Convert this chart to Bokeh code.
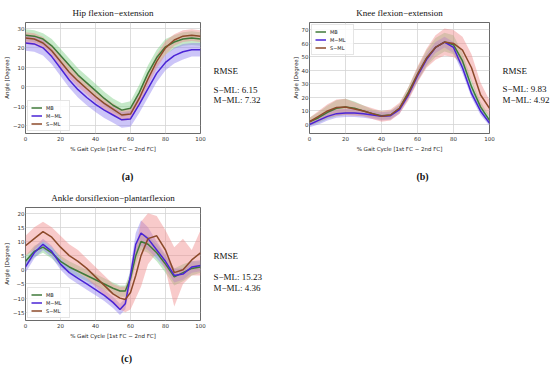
import numpy as np
from bokeh.plotting import figure
from bokeh.layouts import column, row
from bokeh.models import Legend, LegendItem, Range1d, FixedTicker
from bokeh.core.properties import value
from bokeh.embed import file_html
from bokeh.resources import INLINE

# ---------------- data ----------------
series_names = ["MB", "M\u2212ML", "S\u2212ML"]

gait_x = [0, 5, 10, 15, 20, 25, 30, 35, 40, 45, 50, 55, 60, 65, 70, 75, 80, 85, 90, 95, 100]

hip_mb = [26.5, 26, 24.5, 21, 16, 11, 6, 2, -2, -6, -9.5, -12, -11, -3, 7, 15, 20.5, 23, 24.5, 25, 24.5]
hip_mml = [22.5, 22, 20, 15.5, 9.5, 3.5, -1.5, -5.5, -9, -12, -14.5, -17, -16.5, -9, -1, 7, 12.5, 16, 18, 19, 19]
hip_sml = [25, 24.5, 22.5, 18.5, 13, 7.5, 3, -1, -5, -8.5, -11.5, -14.5, -14, -6, 4, 13, 20, 24, 26, 26.5, 26]
hip_mb_sd = [3, 3, 3, 3.5, 3.5, 3.5, 3.5, 3.5, 3.5, 3.5, 3.5, 3.5, 3.5, 4, 4, 4, 4, 3.5, 3.5, 3.5, 3.5]
hip_mml_sd = [4, 4, 4, 4, 4, 4, 4, 4, 4, 4, 4, 4, 4, 4.5, 4.5, 4.5, 4, 4, 4, 3.5, 3.5]
hip_sml_sd = [3, 3, 3, 3, 3, 3, 3, 3, 3, 3, 3, 3, 3, 3.5, 3.5, 3.5, 3.5, 3, 3, 3, 3]

knee_mb = [2, 5, 9, 12, 13, 12, 10, 8, 6.5, 7, 12, 24, 37, 49, 57, 61, 59, 47, 28, 13, 3]
knee_mml = [0, 3, 6, 8, 8.5, 8.5, 8, 7, 6, 6.5, 11, 22, 36, 48, 57, 61, 57, 42, 23, 10, 1]
knee_sml = [2, 6, 10, 12.5, 13, 11.5, 10, 8, 6, 7, 12, 23, 37, 49, 57, 61, 60, 55, 42, 22, 12]
knee_mb_sd = [3, 4, 5, 6, 6, 5, 4, 3, 3, 3, 3, 4, 5, 6, 7, 7, 7, 6, 5, 4, 3]
knee_mml_sd = [2, 3, 3, 3, 3, 3, 3, 3, 3, 3, 3, 3, 4, 4, 4, 4, 4, 4, 3, 3, 2]
knee_sml_sd = [3, 4, 5, 6, 6, 5, 4, 4, 4, 4, 4, 5, 6, 7, 9, 10, 10, 10, 10, 9, 6]

ankle_x = [0, 5, 10, 15, 20, 25, 30, 35, 40, 45, 50, 54, 57, 60, 63, 66, 70, 75, 80, 85, 90, 95, 100]
ankle_mb = [3, 6.5, 8, 6, 3, 1, -0.5, -2, -3.5, -5, -6.5, -7.5, -7.5, -3, 5, 10, 9, 6, 2, -2.5, -1, 0.5, 1]
ankle_mml = [1, 6, 9, 6.5, 2, -1, -3, -5, -7, -9, -11.5, -14, -12, -2, 9, 13, 11, 7, 3, -2, -1.5, 1, 1.5]
ankle_sml = [8.5, 11, 13.5, 11.5, 8, 5, 3, 0.5, -2.5, -5.5, -8.5, -10, -10.5, -8, -2, 5, 11, 12, 7, -1, 0, 3.5, 6]
ankle_mb_sd = [2, 2, 2, 2, 2, 2, 2, 2, 2, 2, 2, 2, 2, 2.5, 3, 3, 3, 3, 3, 3, 3, 2.5, 2]
ankle_mml_sd = [2, 2, 2, 2, 2, 2, 2, 2, 2, 2, 2, 2, 2, 3, 4, 4.5, 4, 3, 2.5, 2.5, 2, 2, 2]
ankle_sml_hi = [12, 15, 17, 15, 12, 9, 7, 4, 1, -2, -5, -6, -6, -2, 8, 17, 20, 19, 14, 8, 11, 7, 14]
ankle_sml_lo = [5, 7, 10, 8, 4, 1, -1, -3, -6, -9, -12, -14, -15, -14, -10, -6, 2, 6, 0, -13, -5, -2, -2]

rmse_hip = ["S\u2212ML: 6.15", "M\u2212ML: 7.32"]
rmse_knee = ["S\u2212ML: 9.83", "M\u2212ML: 4.92"]
rmse_ankle = ["S\u2212ML: 15.23", "M\u2212ML: 4.36"]

x_ticks = [0, 20, 40, 60, 80, 100]
hip_ticks = [-20, -10, 0, 10, 20, 30]
knee_ticks = [0, 10, 20, 30, 40, 50, 60, 70]
ankle_ticks = [-15, -10, -5, 0, 5, 10, 15, 20]

# ---------------- style ----------------
LINE_COLORS = ["#3f7a3a", "#4a24d6", "#8c4a2a"]
BAND_COLORS = ["#7fcf86", "#8f7ff0", "#f08a8a"]
BAND_ALPHA = [0.45, 0.45, 0.45]
SERIF = "Liberation Serif"
SANS = "DejaVu Sans"


def panel(title, x, means, bands, yrange, yticks, width, height, borders, legend_loc):
    left, right, top, bottom = borders
    p = figure(width=width, height=height, x_range=Range1d(0, 100),
               y_range=Range1d(*yrange), output_backend="svg",
               toolbar_location=None, min_border_left=left,
               min_border_right=right, min_border_top=top,
               min_border_bottom=bottom)
    p.title.text = title
    p.title.align = "center"
    p.title.text_font = SERIF
    p.title.text_font_size = "9px"
    p.title.text_font_style = "normal"
    p.title.text_color = "#111111"

    for (lo, hi), c, a in zip(bands, BAND_COLORS, BAND_ALPHA):
        p.varea(x=x, y1=lo, y2=hi, fill_color=c, fill_alpha=a)
    items = []
    for name, m, c in zip(series_names, means, LINE_COLORS):
        r = p.line(x, m, line_color=c, line_width=1.5)
        items.append(LegendItem(label=name, renderers=[r]))

    legend = Legend(items=items, location=legend_loc,
                    label_text_font=SANS, label_text_font_size="5px",
                    label_text_color="#222222",
                    glyph_width=11, glyph_height=7, label_height=7,
                    label_standoff=4, spacing=1, padding=3, margin=2,
                    border_line_color="#cccccc", border_line_width=0.8,
                    background_fill_alpha=0.85)
    p.add_layout(legend)

    p.xaxis.ticker = FixedTicker(ticks=x_ticks)
    p.yaxis.ticker = FixedTicker(ticks=yticks)
    p.xgrid.ticker = FixedTicker(ticks=x_ticks)
    p.ygrid.ticker = FixedTicker(ticks=yticks)
    p.grid.grid_line_color = "#d4d4d4"
    p.grid.grid_line_width = 0.8
    p.xaxis.axis_label = "% Gait Cycle [1st FC \u2212 2nd FC]"
    p.yaxis.axis_label = "Angle [Degree]"
    for ax in (p.xaxis[0], p.yaxis[0]):
        ax.axis_line_color = None
        ax.major_tick_line_color = None
        ax.minor_tick_line_color = None
        ax.major_tick_out = 0
        ax.major_tick_in = 0
        ax.major_label_text_font = SANS
        ax.major_label_text_font_size = "5.5px"
        ax.major_label_text_color = "#333333"
        ax.axis_label_text_font = SANS
        ax.axis_label_text_font_size = "5.5px"
        ax.axis_label_text_font_style = "normal"
        ax.axis_label_text_color = "#222222"
    p.xaxis.major_label_standoff = 2
    p.xaxis.axis_label_standoff = 2
    p.yaxis.major_label_standoff = 1
    p.yaxis.axis_label_standoff = 0
    p.outline_line_color = "#444444"
    p.outline_line_width = 0.8
    return p


def text_fig(width, height, borders, yr, entries):
    """Text-only panel; y values are given in page pixels (top-down)."""
    top, bottom = borders
    t = figure(width=width, height=height, x_range=Range1d(0, width),
               y_range=Range1d(*yr), output_backend="svg",
               toolbar_location=None, x_axis_type=None, y_axis_type=None,
               min_border_left=0, min_border_right=0,
               min_border_top=top, min_border_bottom=bottom)
    t.grid.visible = False
    t.outline_line_color = None
    for (tx, ty, txt, size, style, align) in entries:
        t.text(x=[tx], y=[ty], text=[txt], text_font=value(SERIF),
               text_font_size=size, text_font_style=style, text_align=align,
               text_baseline="middle", text_color="#111111")
    return t


def band(m, sd):
    m = np.asarray(m, float)
    sd = np.asarray(sd, float)
    return (m - sd, m + sd)


def rmse_entries(vals, ys, x0):
    out = [(x0, ys[0], "RMSE", "9px", "normal", "left")]
    for v, yy in zip(vals, ys[1:]):
        out.append((x0, yy, v, "9px", "normal", "left"))
    return out


# row 1: frames span page y 13..133
pa = panel("Hip flexion\u2212extension", gait_x,
           [hip_mb, hip_mml, hip_sml],
           [band(hip_mb, hip_mb_sd), band(hip_mml, hip_mml_sd), band(hip_sml, hip_sml_sd)],
           (-24, 33), hip_ticks, 208, 155, (23, 8, 13, 22), "bottom_left")
ta = text_fig(64, 155, (13, 22), (133, 13), rmse_entries(rmse_hip, (65, 86, 97), 5))

pb = panel("Knee flexion\u2212extension", gait_x,
           [knee_mb, knee_mml, knee_sml],
           [band(knee_mb, knee_mb_sd), band(knee_mml, knee_mml_sd), band(knee_sml, knee_sml_sd)],
           (-6.7, 75.5), knee_ticks, 225, 155, (37, 8, 13, 22), "top_left")
tb = text_fig(53, 155, (13, 22), (133, 13), rmse_entries(rmse_knee, (65, 85, 97), 5))

# tag row: page y 155..185
tags1 = text_fig(550, 30, (0, 0), (185, 155),
                 [(127, 176, "(a)", "10px", "bold", "center"),
                  (422, 176, "(b)", "10px", "bold", "center")])

# row 2: page y 185..342, frame 203..320
pc = panel("Ankle dorsiflexion\u2212plantarflexion", ankle_x,
           [ankle_mb, ankle_mml, ankle_sml],
           [band(ankle_mb, ankle_mb_sd), band(ankle_mml, ankle_mml_sd),
            (np.asarray(ankle_sml_lo, float), np.asarray(ankle_sml_hi, float))],
           (-17.9, 22), ankle_ticks, 208, 157, (23, 8, 18, 22), "bottom_left")
tc = text_fig(64, 157, (18, 22), (320, 203), rmse_entries(rmse_ankle, (253, 275, 286), 5))

# tag row: page y 342..366
tags2 = text_fig(550, 24, (0, 0), (366, 342),
                 [(126, 358, "(c)", "10px", "bold", "center")])

layout = column(row(pa, ta, pb, tb), tags1, row(pc, tc), tags2)
open("out.html", "w").write(file_html(layout, INLINE))
